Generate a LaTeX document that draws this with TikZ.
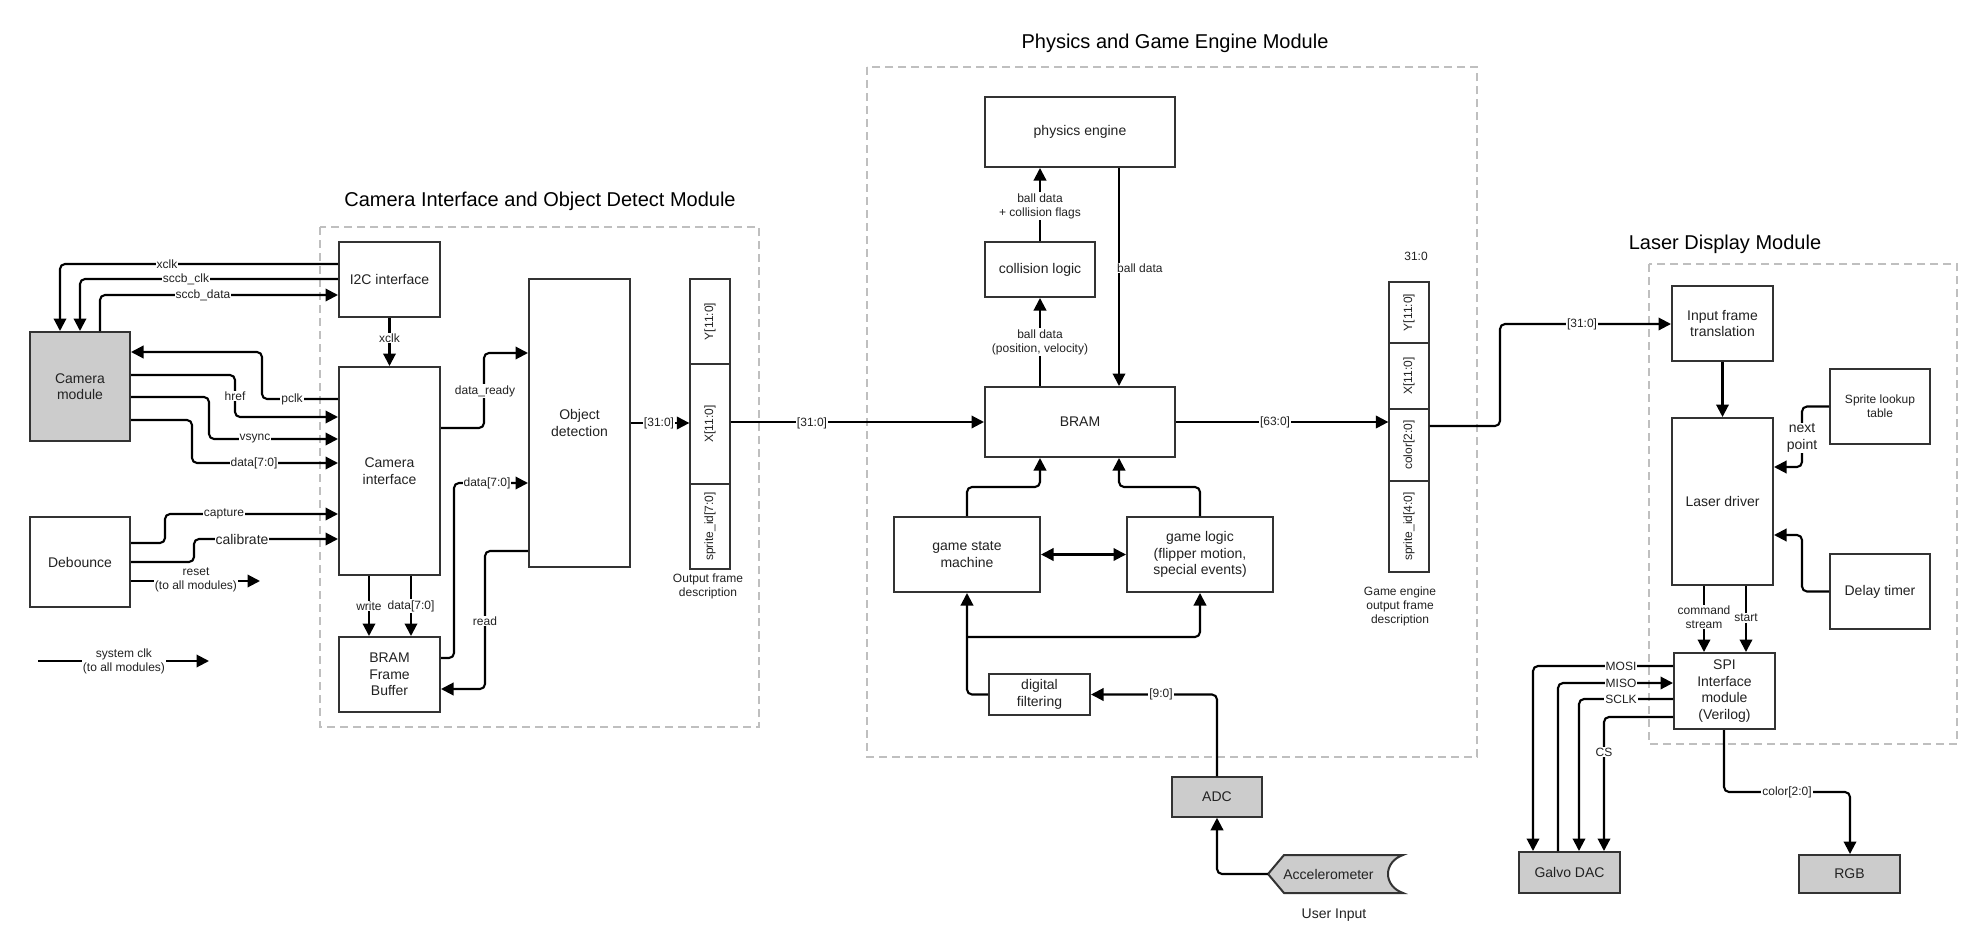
\documentclass[tikz,border=0pt]{standalone}
\usepackage{fontspec}
\setmainfont{Liberation Sans}
\usetikzlibrary{arrows.meta}
\definecolor{bordc}{HTML}{333333}
\definecolor{grayfill}{HTML}{CCCCCC}
\definecolor{modc}{HTML}{BFBFBF}
\definecolor{txtc}{HTML}{222222}
\newcommand{\ftbox}{\fontsize{14}{16.5}\selectfont}
\newcommand{\ftlbl}{\fontsize{12}{14}\selectfont}
\newcommand{\fttitle}{\fontsize{20}{24}\selectfont}
\begin{document}
\begin{tikzpicture}[x=1pt,y=-1pt,
 box/.style={draw=bordc, line width=2pt, fill=white, align=center, inner sep=0pt, font=\ftbox, text=txtc},
 gbox/.style={box, fill=grayfill},
 cell/.style={draw=bordc, line width=1.3pt, fill=white, inner sep=0pt, font=\ftlbl, text=txtc, minimum width=40pt},
 lbl/.style={fill=white, inner sep=1pt, font=\ftlbl, text=txtc, align=center},
 lblbig/.style={lbl, font=\ftbox},
 plain/.style={inner sep=0pt, font=\ftlbl, text=txtc, align=center},
 title/.style={inner sep=0pt, font=\fttitle, text=black},
 module/.style={draw=modc, line width=1.5pt, dash pattern=on 8pt off 5pt},
 wire/.style={draw=black, line width=2.1pt, rounded corners=5pt},
 arr/.style={wire, -{Triangle[length=12.5pt,width=12.5pt]}},
 darr/.style={wire, {Triangle[length=12.5pt,width=12.5pt]}-{Triangle[length=12.5pt,width=12.5pt]}},
]
\useasboundingbox (0,0) rectangle (1976,942);
\fill[white] (0,0) rectangle (1976,942);

% module frames
\draw[module] (320,227) rectangle (759,727);
\draw[module] (867,67) rectangle (1477,757);
\draw[module] (1649,264) rectangle (1957,744);
\node[title] (t1) at (540,201) {Camera Interface and Object Detect Module};
\node[title] (t2) at (1175,43) {Physics and Game Engine Module};
\node[title] (t3) at (1725,244) {Laser Display Module};

% camera side boxes
\node[gbox, minimum width=100pt, minimum height=109pt] (cam) at (80,386.5) {Camera\\module};
\node[box, minimum width=100pt, minimum height=90pt] (deb) at (80,562) {Debounce};
\node[box, minimum width=101pt, minimum height=75pt] (i2c) at (389.5,279.5) {I2C interface};
\node[box, minimum width=101pt, minimum height=208pt] (ci) at (389.5,471) {Camera\\interface};
\node[box, minimum width=101pt, minimum height=75pt] (bfb) at (389.5,674.5) {BRAM\\Frame\\Buffer};
\node[box, minimum width=101pt, minimum height=288pt] (od) at (579.5,423) {Object\\detection};
\node[cell, minimum height=85pt] (f1y) at (710,321.5) {\rotatebox{90}{Y[11:0]}};
\node[cell, minimum height=120pt] (f1x) at (710,424) {\rotatebox{90}{X[11:0]}};
\node[cell, minimum height=85pt] (f1s) at (710,526.5) {\rotatebox{90}{sprite\_id[7:0]}};
\node[plain] (f1lbl) at (708,586) {Output frame\\description};

% physics boxes
\node[box, minimum width=190pt, minimum height=70pt] (pe) at (1080,132) {physics engine};
\node[box, minimum width=110pt, minimum height=55pt] (cl) at (1040,269.5) {collision logic};
\node[box, minimum width=190pt, minimum height=70pt] (bram) at (1080,422) {BRAM};
\node[box, minimum width=146pt, minimum height=75pt] (gsm) at (967,554.5) {game state\\machine};
\node[box, minimum width=146pt, minimum height=75pt] (gl) at (1200,554.5) {game logic\\(flipper motion,\\special events)};
\node[box, minimum width=101pt, minimum height=41pt] (df) at (1039.5,694.5) {digital\\filtering};
\node[gbox, line width=1.5pt, minimum width=90pt, minimum height=40pt] (adc) at (1217,797) {ADC};
\fill[grayfill, draw=bordc, line width=2pt] (1268,874) -- (1284,855) -- (1403,855)
  .. controls (1383,862) and (1383,886) .. (1403,893) -- (1284,893) -- cycle;
\node[inner sep=0pt, minimum width=135pt, minimum height=38pt, font=\ftbox, text=txtc] (acc) at (1335.5,874) {Accelerometer\hspace*{14pt}};
\node[plain, font=\ftbox] (uin) at (1334,915) {User Input};
\node[cell, minimum height=61pt] (f2y) at (1409,312.5) {\rotatebox{90}{Y[11:0]}};
\node[cell, minimum height=66pt] (f2x) at (1409,376) {\rotatebox{90}{X[11:0]}};
\node[cell, minimum height=72pt] (f2c) at (1409,445) {\rotatebox{90}{color[2:0]}};
\node[cell, minimum height=91pt] (f2s) at (1409,526.5) {\rotatebox{90}{sprite\_id[4:0]}};
\node[plain] (f2top) at (1416,256) {31:0};
\node[plain] (f2lbl) at (1400,606) {Game engine\\output frame\\description};

% laser boxes
\node[box, minimum width=101pt, minimum height=75pt] (ift) at (1722.5,323.5) {Input frame\\translation};
\node[box, minimum width=101pt, minimum height=167pt] (ld) at (1722.5,501.5) {Laser driver};
\node[box, minimum width=100pt, minimum height=75pt, font=\ftlbl] (slt) at (1880,406.5) {Sprite lookup\\table};
\node[box, minimum width=100pt, minimum height=75pt] (dt) at (1880,591.5) {Delay timer};
\node[box, minimum width=101pt, minimum height=76pt] (spi) at (1724.5,691) {SPI\\Interface\\module\\(Verilog)};
\node[gbox, minimum width=101pt, minimum height=41pt] (gd) at (1569.5,872.5) {Galvo DAC};
\node[gbox, minimum width=101pt, minimum height=38pt] (rgb) at (1849.5,874) {RGB};

% camera connectors
\draw[arr] (i2c.west |- 0,264) -- (60,264) -- (cam.north -| 60,0);
\draw[arr] (i2c.west |- 0,279) -- (80,279) -- (cam.north -| 80,0);
\draw[arr] (cam.north -| 100,0) -- (100,295) -- (i2c.west |- 0,295);
\draw[arr] (i2c.south) -- (ci.north);
\draw[arr] (ci.west |- 0,399) -- (262,399) -- (262,352) -- (cam.east |- 0,352);
\draw[arr] (cam.east |- 0,375) -- (235,375) -- (235,417) -- (ci.west |- 0,417);
\draw[arr] (cam.east |- 0,397) -- (209,397) -- (209,439) -- (ci.west |- 0,439);
\draw[arr] (cam.east |- 0,420) -- (192,420) -- (192,463) -- (ci.west |- 0,463);
\draw[arr] (deb.east |- 0,543) -- (165,543) -- (165,514) -- (ci.west |- 0,514);
\draw[arr] (deb.east |- 0,562) -- (194,562) -- (194,539) -- (ci.west |- 0,539);
\coordinate (rstend) at (260,581);
\draw[arr] (deb.east |- 0,581) -- (rstend);
\coordinate (clkstart) at (38,661);
\coordinate (clkend) at (209,661);
\draw[arr] (clkstart) -- (clkend);
\draw[arr] (ci.south -| 369,0) -- (bfb.north -| 369,0);
\draw[arr] (ci.south -| 411,0) -- (bfb.north -| 411,0);
\draw[arr] (ci.east |- 0,428) -- (484,428) -- (484,353) -- (od.west |- 0,353);
\draw[arr] (bfb.east |- 0,658) -- (454,658) -- (454,483) -- (od.west |- 0,483);
\draw[arr] (od.west |- 0,551) -- (485,551) -- (485,689) -- (bfb.east |- 0,689);
\draw[arr] (od.east) -- (f1x.west |- od.east);
\draw[arr] (f1x.east |- bram.west) -- (bram.west);

% physics connectors
\draw[arr] (cl.north) -- (cl.north |- pe.south);
\draw[arr] (bram.north -| cl.north) -- (cl.south);
\draw[arr] (pe.south -| 1119,0) -- (bram.north -| 1119,0);
\draw[arr] (bram.east) -- (f2c.west |- bram.east);
\draw[arr] (gsm.north) -- (967,487) -- (1040,487) -- (bram.south -| 1040,0);
\draw[arr] (gl.north) -- (1200,487) -- (1119,487) -- (bram.south -| 1119,0);
\draw[darr] (gsm.east) -- (gl.west);
\draw[arr] (df.west) -- (967,694.5) -- (gsm.south);
\coordinate (jn) at (967,637);
\draw[arr] (jn) -- (1200,637) -- (gl.south);
\draw[arr] (adc.north) -- (1217,694.5) -- (df.east);
\draw[arr] (acc.west) -- (1217,874) -- (adc.south);

% laser connectors
\draw[arr] (f2c.east |- 0,426) -- (1500,426) -- (1500,324) -- (ift.west |- 0,324);
\draw[arr] (ift.south) -- (ld.north);
\draw[arr] (slt.west) -- (1802,406.5) -- (1802,467) -- (ld.east |- 0,467);
\draw[arr] (dt.west) -- (1802,591.5) -- (1802,535) -- (ld.east |- 0,535);
\draw[arr] (ld.south -| 1704,0) -- (spi.north -| 1704,0);
\draw[arr] (ld.south -| 1746,0) -- (spi.north -| 1746,0);
\draw[arr] (spi.west |- 0,666) -- (1533,666) -- (gd.north -| 1533,0);
\draw[arr] (gd.north -| 1558,0) -- (1558,683) -- (spi.west |- 0,683);
\draw[arr] (spi.west |- 0,699) -- (1579,699) -- (gd.north -| 1579,0);
\draw[arr] (spi.west |- 0,717) -- (1604,717) -- (gd.north -| 1604,0);
\draw[arr] (spi.south -| 1724,0) -- (1724,792) -- (1850,792) -- (rgb.north -| 1850,0);

% connector labels
\node[lbl] (lxclk) at (167,264) {xclk};
\node[lbl] (lsccbclk) at (186,279) {sccb\_clk};
\node[lbl] (lsccbdata) at (203,295) {sccb\_data};
\node[lbl] (lxclk2) at (389.5,338) {xclk};
\node[lbl] (lpclk) at (292,399) {pclk};
\node[lbl] (lhref) at (235,396) {href};
\node[lbl] (lvsync) at (255,439) {vsync};
\node[lbl] (ldata1) at (254,463) {data[7:0]};
\node[lbl] (lcapture) at (224,514) {capture};
\node[lblbig] (lcalib) at (242,539) {calibrate};
\node[lbl] (lreset) at (196,580) {reset\\(to all modules)};
\node[lbl] (lsysclk) at (124,661) {system clk\\(to all modules)};
\node[lbl] (lwrite) at (369,606) {write};
\node[lbl] (ldata2) at (411,606) {data[7:0]};
\node[lbl] (lready) at (485,391) {data\_ready};
\node[lbl] (ldata3) at (487,483) {data[7:0]};
\node[lbl] (lread) at (485,621) {read};
\node[lbl] (lbus1) at (659,423) {[31:0]};
\node[lbl] (lbus2) at (812,423) {[31:0]};
\node[lbl] (lcoll) at (1040,206) {ball data\\+ collision flags};
\node[lbl] (lpos) at (1040,342) {ball data\\(position, velocity)};
\node[lbl, anchor=west] (lball) at (1116,268) {ball data};
\node[lbl] (lbus3) at (1275,422) {[63:0]};
\node[lbl] (l90) at (1161,694.5) {[9:0]};
\node[lbl] (lbus4) at (1582,324) {[31:0]};
\node[lblbig] (lnext) at (1802,438) {next\\point};
\node[lbl] (lcmd) at (1704,617) {command\\stream};
\node[lbl] (lstart) at (1746,618) {start};
\node[lbl] (lmosi) at (1621,666) {MOSI};
\node[lbl] (lmiso) at (1621,683) {MISO};
\node[lbl] (lsclk) at (1621,699) {SCLK};
\node[lbl] (lcs) at (1604,752) {CS};
\node[lbl] (lcolor) at (1787,792) {color[2:0]};
\end{tikzpicture}
\end{document}
